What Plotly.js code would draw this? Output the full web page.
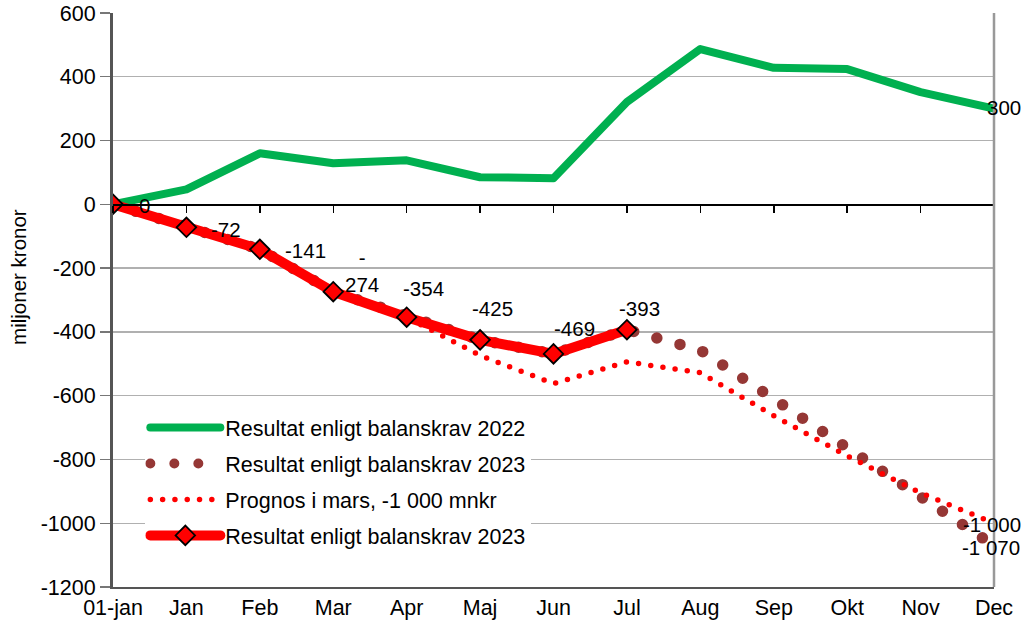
<!DOCTYPE html>
<html>
<head>
<meta charset="utf-8">
<script src="https://cdn.plot.ly/plotly-3.0.1.min.js"></script>
<style>
html,body{margin:0;padding:0;background:#fff;}
#chart{width:1023px;height:631px;}
.js-line{stroke-linecap:round;stroke-linejoin:round;}
</style>
</head>
<body>
<div id="chart"></div>
<script>
// ---- data ----
const months = ["01-jan","Jan","Feb","Mar","Apr","Maj","Jun","Jul","Aug","Sep","Okt","Nov","Dec"];
const result2022 = [0, 47, 160, 129, 138, 85, 82, 321, 487, 428, 424, 352, 300];
const forecast2023 = [0, -72, -141, -274, -354, -425, -469, -393, -457, -608, -766, -913, -1070];
const prognosMars = [0, -72, -141, -274, -354, -474, -562, -494, -528, -663, -789, -905, -1000];
const actual2023 = [0, -72, -141, -274, -354, -425, -469, -393];
const actualLabels = ["0", "-72", "-141", "-<br>274", "-354", "-425", "-469", "-393"];
const names = ["Resultat enligt balanskrav 2022", "Resultat enligt balanskrav 2023", "Prognos i mars, -1 000 mnkr", "Resultat enligt balanskrav 2023"];
const yTicks = [600, 400, 200, 0, -200, -400, -600, -800, -1000, -1200];

// ---- styling ----
const FONT = "Liberation Sans, Arial, sans-serif";
const actualShifts = [[31,-1],[40,-2],[46,-1],[29,21],[17,29],[12,31],[21,25],[13,21]];

const traces = [
  {x: months, y: result2022, name: names[0], mode: "lines", legendgroup: "a",
   line: {color: "#00b050", width: 8}},
  {x: months, y: forecast2023, name: names[1], mode: "lines", legendgroup: "b",
   line: {color: "#953735", width: 11.5, dash: "0px,24px"}},
  {x: months, y: prognosMars, name: names[2], mode: "lines", legendgroup: "c",
   line: {color: "#ff0000", width: 5.5, dash: "0px,12.3px"}},
  {x: months.slice(0, actual2023.length), y: actual2023, name: names[3], mode: "lines+markers", legendgroup: "d",
   line: {color: "#ff0000", width: 10},
   marker: {symbol: "diamond", size: 15, color: "#ff0000", line: {color: "#000", width: 1.8}}},
  // invisible helper trace for the zero-line axis with ticks
  {x: months, y: months.map(() => null), xaxis: "x2", showlegend: false, hoverinfo: "skip", mode: "lines"}
];

const annotations = [];
actual2023.forEach((v, i) => {
  annotations.push({x: months[i], y: v, text: actualLabels[i], showarrow: false,
    xanchor: "center", yanchor: "middle", xshift: actualShifts[i][0], yshift: actualShifts[i][1],
    font: {family: FONT, size: 20.5, color: "#000"}});
});
function fmt(v){ const s = Math.abs(v).toString().replace(/\B(?=(\d{3})+(?!\d))/g, " "); return (v < 0 ? "-" : "") + s; }
annotations.push({x: months[12], y: result2022[12], text: fmt(result2022[12]), showarrow: false,
  xanchor: "center", yanchor: "middle", xshift: 9.5, yshift: 1.5, font: {family: FONT, size: 20.5, color: "#000"}});
annotations.push({x: months[12], y: prognosMars[12], text: fmt(prognosMars[12]), showarrow: false,
  xanchor: "center", yanchor: "middle", xshift: -2.5, yshift: -1, font: {family: FONT, size: 20.5, color: "#000"}});
annotations.push({x: months[12], y: forecast2023[12], text: fmt(forecast2023[12]), showarrow: false,
  xanchor: "center", yanchor: "middle", xshift: -3.5, yshift: -1.5, font: {family: FONT, size: 20.5, color: "#000"}});
annotations.push({xref: "paper", yref: "paper", x: -0.108, y: 0.54, text: "miljoner kronor", textangle: -90,
  showarrow: false, xanchor: "center", yanchor: "middle", font: {family: FONT, size: 20.5, color: "#000"}});

const layout = {
  width: 1023, height: 631,
  margin: {l: 113, r: 29, t: 13, b: 44},
  paper_bgcolor: "#fff", plot_bgcolor: "#fff",
  font: {family: FONT, size: 21.5, color: "#000"},
  showlegend: true,
  legend: {x: 0.0367, y: 0.3135, xanchor: "left", yanchor: "top", bgcolor: "#fff",
    font: {family: FONT, size: 21.5, color: "#000"}, traceorder: "grouped", tracegroupgap: 5, itemwidth: 70},
  xaxis: {type: "category", categoryorder: "array", categoryarray: months, range: [0, 12],
    showgrid: false, zeroline: false, showline: true, linecolor: "#555", linewidth: 2,
    ticks: "", tickfont: {family: FONT, size: 21.5}, fixedrange: true},
  xaxis2: {type: "category", categoryorder: "array", categoryarray: months, range: [0, 12],
    overlaying: "x", anchor: "free", position: 2/3, side: "bottom",
    showgrid: false, zeroline: false, showline: true, linecolor: "#000", linewidth: 1.5,
    ticks: "outside", ticklen: 7, tickcolor: "#000", tickwidth: 1.5, showticklabels: false},
  yaxis: {range: [-1200, 600], tickvals: yTicks, ticktext: yTicks.map(String),
    showgrid: true, gridcolor: "#b0b0b0", gridwidth: 1.3, zeroline: false,
    showline: true, linecolor: "#555", linewidth: 3, ticks: "outside", ticklen: 10, tickcolor: "#777", tickwidth: 1.3,
    tickfont: {family: FONT, size: 21.5}},
  shapes: [
    {type: "line", xref: "paper", yref: "paper", x0: 1, x1: 1, y0: 0, y1: 1, line: {color: "#999", width: 2.5}}
  ],
  annotations: annotations
};

Plotly.newPlot("chart", traces, layout, {staticPlot: true, displayModeBar: false});
</script>
</body>
</html>
